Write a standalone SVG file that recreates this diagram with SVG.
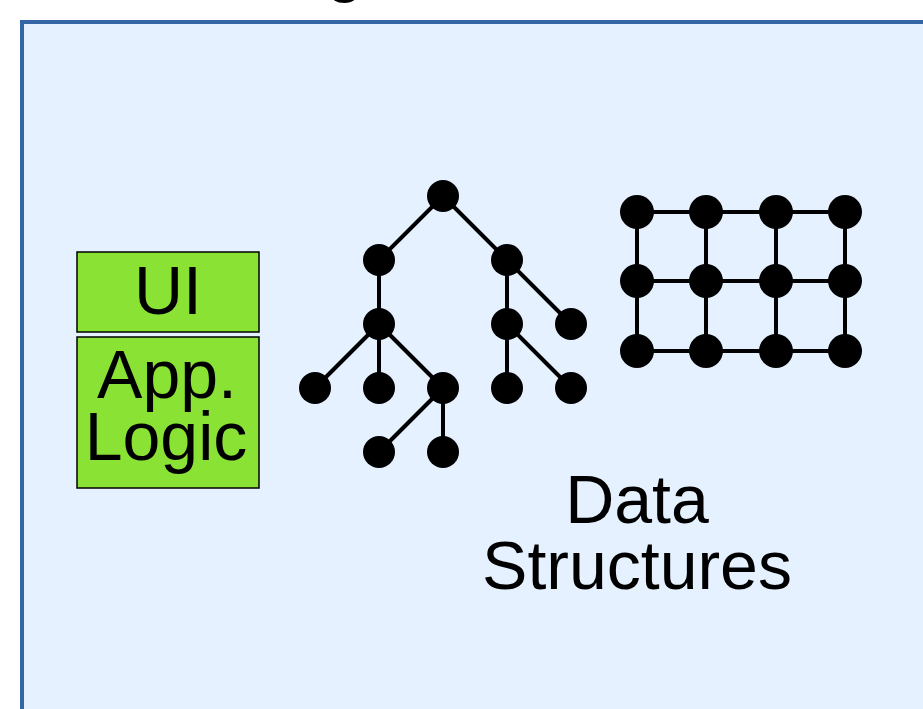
<svg xmlns="http://www.w3.org/2000/svg" width="923" height="709" viewBox="0 0 923 709">
  <style>
    .lbl { font-family: "Liberation Sans", Arial, sans-serif; font-size: 68px; fill: #000; text-anchor: middle; }
    .box { fill: #8ae234; stroke: #000; stroke-width: 1.5; }
    .edge { stroke: #000; stroke-width: 4; fill: none; stroke-linecap: butt; }
    .dot { fill: #000; }
  </style>
  <rect width="923" height="709" fill="#ffffff"/>

  <!-- heading, mostly above the top edge -->
  <text class="lbl" x="345" y="-11" font-size="54">g</text>

  <!-- panel -->
  <rect id="panel" x="22" y="22" width="960" height="760" fill="#e5f1ff" stroke="#3465a4" stroke-width="4"/>

  <!-- layered program stack -->
  <g id="ui">
    <rect class="box" x="77" y="252" width="182" height="80"/>
    <text class="lbl" x="168" y="314">UI</text>
  </g>
  <g id="app-logic">
    <rect class="box" x="77" y="337" width="182" height="151"/>
    <text class="lbl" x="167" y="398">App.</text>
    <text class="lbl" x="166" y="460">Logic</text>
  </g>

  <!-- connectors -->
  <g id="connectors" class="edge">
    <!-- tree -->
    <line x1="443" y1="196" x2="379" y2="260"/>
    <line x1="443" y1="196" x2="507" y2="260"/>
    <line x1="379" y1="260" x2="379" y2="324"/>
    <line x1="507" y1="260" x2="507" y2="324"/>
    <line x1="507" y1="260" x2="571" y2="324"/>
    <line x1="379" y1="324" x2="315" y2="388"/>
    <line x1="379" y1="324" x2="379" y2="388"/>
    <line x1="379" y1="324" x2="443" y2="388"/>
    <line x1="507" y1="324" x2="507" y2="388"/>
    <line x1="507" y1="324" x2="571" y2="388"/>
    <line x1="443" y1="388" x2="379" y2="452"/>
    <line x1="443" y1="388" x2="443" y2="452"/>
    <!-- grid rows -->
    <line x1="637" y1="212" x2="845" y2="212"/>
    <line x1="637" y1="281" x2="845" y2="281"/>
    <line x1="637" y1="351" x2="845" y2="351"/>
    <!-- grid columns -->
    <line x1="637" y1="212" x2="637" y2="351"/>
    <line x1="706" y1="212" x2="706" y2="351"/>
    <line x1="776" y1="212" x2="776" y2="351"/>
    <line x1="845" y1="212" x2="845" y2="351"/>
  </g>

  <!-- tree nodes -->
  <g id="tree">
    <circle id="t0" class="dot" cx="443" cy="196" r="16"/>
    <circle id="t1" class="dot" cx="379" cy="260" r="16"/>
    <circle id="t2" class="dot" cx="507" cy="260" r="16"/>
    <circle id="t3" class="dot" cx="379" cy="324" r="16"/>
    <circle id="t4" class="dot" cx="507" cy="324" r="16"/>
    <circle id="t5" class="dot" cx="571" cy="324" r="16"/>
    <circle id="t6" class="dot" cx="315" cy="388" r="16"/>
    <circle id="t7" class="dot" cx="379" cy="388" r="16"/>
    <circle id="t8" class="dot" cx="443" cy="388" r="16"/>
    <circle id="t9" class="dot" cx="507" cy="388" r="16"/>
    <circle id="t10" class="dot" cx="571" cy="388" r="16"/>
    <circle id="t11" class="dot" cx="379" cy="452" r="16"/>
    <circle id="t12" class="dot" cx="443" cy="452" r="16"/>
  </g>

  <!-- grid nodes -->
  <g id="grid">
    <circle id="g00" class="dot" cx="637" cy="212" r="17"/>
    <circle id="g01" class="dot" cx="706" cy="212" r="17"/>
    <circle id="g02" class="dot" cx="776" cy="212" r="17"/>
    <circle id="g03" class="dot" cx="845" cy="212" r="17"/>
    <circle id="g10" class="dot" cx="637" cy="281" r="17"/>
    <circle id="g11" class="dot" cx="706" cy="281" r="17"/>
    <circle id="g12" class="dot" cx="776" cy="281" r="17"/>
    <circle id="g13" class="dot" cx="845" cy="281" r="17"/>
    <circle id="g20" class="dot" cx="637" cy="351" r="17"/>
    <circle id="g21" class="dot" cx="706" cy="351" r="17"/>
    <circle id="g22" class="dot" cx="776" cy="351" r="17"/>
    <circle id="g23" class="dot" cx="845" cy="351" r="17"/>
  </g>

  <g id="data-structures-label">
    <text class="lbl" x="637" y="523">Data</text>
    <text class="lbl" x="637" y="589">Structures</text>
  </g>
</svg>
